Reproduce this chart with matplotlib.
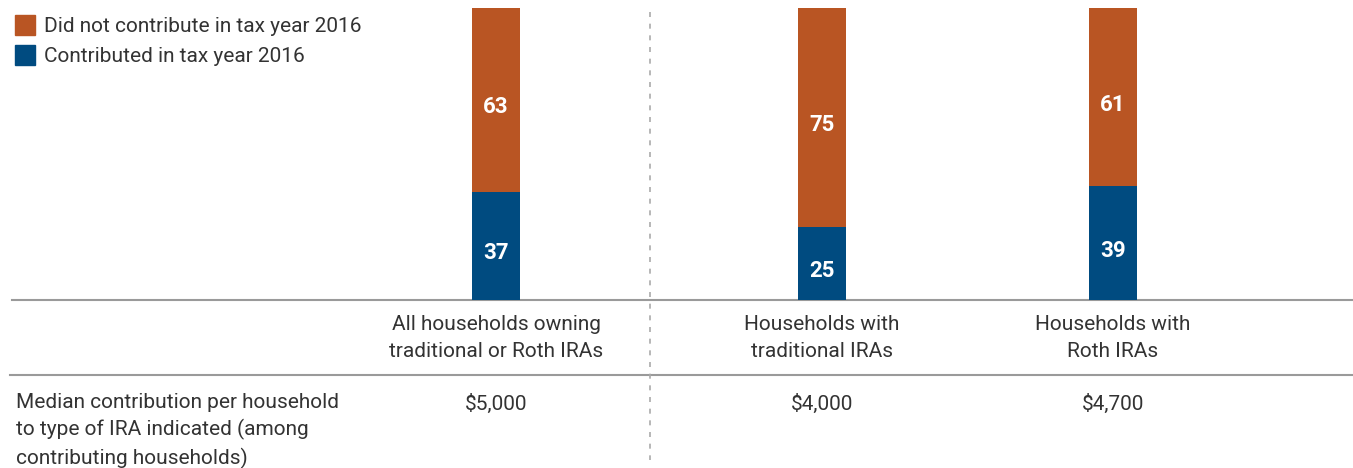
import matplotlib
matplotlib.use("Agg")
from matplotlib import pyplot as plt
from matplotlib.transforms import offset_copy

# data
categories = ["All households owning\ntraditional or Roth IRAs",
              "Households with\ntraditional IRAs",
              "Households with\nRoth IRAs"]
contributed = [37, 25, 39]
did_not = [63, 75, 61]
medians = ["$5,000", "$4,000", "$4,700"]
series_names = ["Did not contribute in tax year 2016", "Contributed in tax year 2016"]
row_label = "Median contribution per household\nto type of IRA indicated (among\ncontributing households)"

# layout (pixels)
W, H = 1353, 468
bar_x = [496, 822, 1113]
bar_w = 48
orange = "#B95523"
blue = "#004B80"
text_col = "#333333"
line_col = "#9a9a9a"
fs = 15

plt.rcParams["font.family"] = ["Roboto", "DejaVu Sans"]

fig = plt.figure(figsize=(W / 100, H / 100), dpi=100)

# overlay axes in pixel coords for text and lines
bg = fig.add_axes([0, 0, 1, 1])
bg.set_xlim(0, W)
bg.set_ylim(H, 0)
bg.axis("off")

# bar axes: baseline at y=300, top of 100% at y=8
base, top = 300, 8
ax = fig.add_axes([0, (H - base) / H, 1, (base - top) / H])
ax.set_xlim(0, W)
ax.set_ylim(0, 100)
ax.axis("off")

ax.bar(bar_x, contributed, width=bar_w, color=blue)
ax.bar(bar_x, did_not, width=bar_w, bottom=contributed, color=orange)
# labels sit a little below the segment middle, as in the original
lbl_tr = offset_copy(ax.transData, fig=fig, y=-5, units="dots")
for x, c, d in zip(bar_x, contributed, did_not):
    ax.text(x, c / 2, str(c), ha="center", va="center_baseline", color="white",
            fontsize=16, fontweight="bold", transform=lbl_tr)
    ax.text(x, c + d / 2, str(d), ha="center", va="center_baseline", color="white",
            fontsize=16, fontweight="bold", transform=lbl_tr)

# horizontal rules and dashed divider
bg.plot([12, W], [300, 300], color=line_col, lw=1.5)
bg.plot([10, W], [375, 375], color=line_col, lw=1.5)
bg.plot([650, 650], [12, 460], color="#aaaaaa", lw=1.2, ls=(0, (3, 4)))

# legend
for i, (name, col) in enumerate(zip(series_names, [orange, blue])):
    y = 25 + 30 * i
    bg.add_patch(plt.Rectangle((15, y - 10), 20, 20, color=col))
    bg.text(44, y, name, va="center_baseline", ha="left", fontsize=fs, color=text_col)

# category labels and medians
for x, cat, med in zip(bar_x, categories, medians):
    bg.text(x, 338, cat, ha="center", va="center", fontsize=fs,
            color=text_col, linespacing=1.5)
    bg.text(x, 404, med, ha="center", va="center", fontsize=fs, color=text_col)

bg.text(16, 431, row_label, ha="left", va="center", fontsize=fs,
        color=text_col, linespacing=1.45)

fig.savefig("out.png", dpi=100)
